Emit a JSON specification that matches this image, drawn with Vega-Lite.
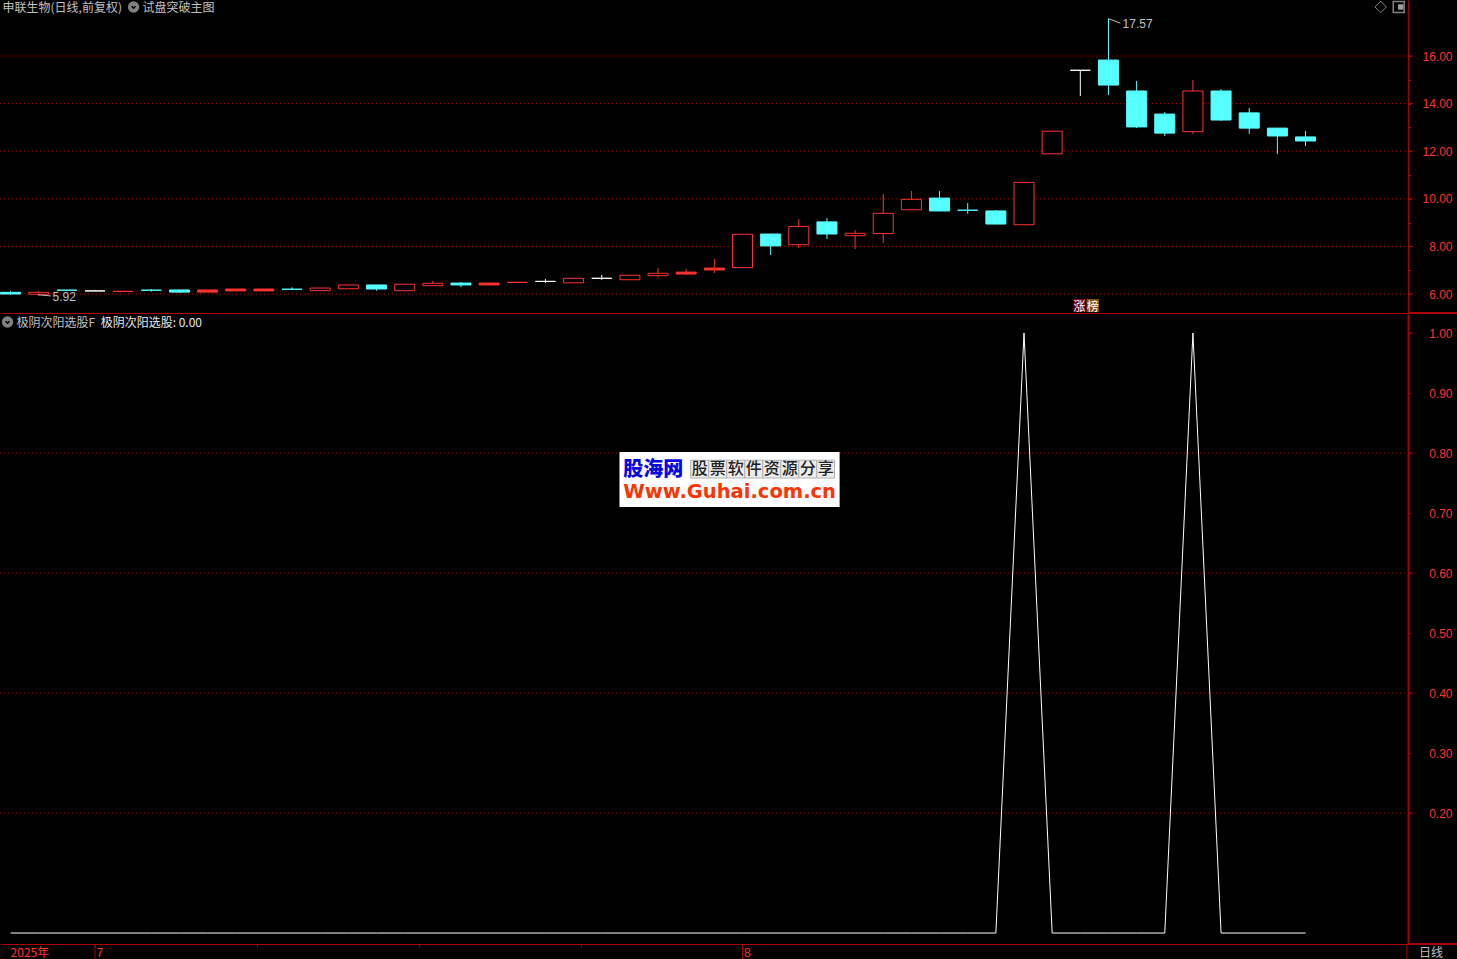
{
"$schema":"https://vega.github.io/schema/vega-lite/v6.json",
"background":"#000000",
"padding":{"left":-1,"top":-2,"right":0,"bottom":0},
"spacing":0,
"config":{"view":{"stroke":null},"concat":{"spacing":0},"text":{"font":"Noto Sans CJK SC","fontSize":12},"axis":{"title":null,"grid":false}},
"datasets":{
"candles":[
{"i":0,"top":6.07,"bot":6.00,"high":6.13,"low":5.97,"kind":"cyan"},
{"i":1,"top":6.07,"bot":5.99,"high":6.13,"low":5.92,"kind":"hollow"},
{"i":2,"top":6.16,"bot":6.16,"high":6.17,"low":6.15,"kind":"cyan"},
{"i":3,"top":6.13,"bot":6.13,"high":6.17,"low":6.13,"kind":"white"},
{"i":4,"top":6.11,"bot":6.11,"high":6.11,"low":6.11,"kind":"solid"},
{"i":5,"top":6.16,"bot":6.16,"high":6.21,"low":6.10,"kind":"cyan"},
{"i":6,"top":6.17,"bot":6.08,"high":6.17,"low":6.05,"kind":"cyan"},
{"i":7,"top":6.17,"bot":6.08,"high":6.17,"low":6.08,"kind":"solid"},
{"i":8,"top":6.21,"bot":6.13,"high":6.21,"low":6.13,"kind":"solid"},
{"i":9,"top":6.21,"bot":6.13,"high":6.21,"low":6.13,"kind":"solid"},
{"i":10,"top":6.20,"bot":6.20,"high":6.28,"low":6.17,"kind":"cyan"},
{"i":11,"top":6.25,"bot":6.14,"high":6.25,"low":6.14,"kind":"hollow"},
{"i":12,"top":6.38,"bot":6.22,"high":6.38,"low":6.22,"kind":"hollow"},
{"i":13,"top":6.38,"bot":6.21,"high":6.38,"low":6.14,"kind":"cyan"},
{"i":14,"top":6.41,"bot":6.14,"high":6.41,"low":6.14,"kind":"hollow"},
{"i":15,"top":6.45,"bot":6.35,"high":6.55,"low":6.35,"kind":"hollow"},
{"i":16,"top":6.46,"bot":6.38,"high":6.50,"low":6.29,"kind":"cyan"},
{"i":17,"top":6.46,"bot":6.38,"high":6.46,"low":6.38,"kind":"solid"},
{"i":18,"top":6.49,"bot":6.49,"high":6.49,"low":6.49,"kind":"solid"},
{"i":19,"top":6.53,"bot":6.53,"high":6.63,"low":6.46,"kind":"white"},
{"i":20,"top":6.66,"bot":6.47,"high":6.66,"low":6.47,"kind":"hollow"},
{"i":21,"top":6.66,"bot":6.66,"high":6.80,"low":6.59,"kind":"white"},
{"i":22,"top":6.79,"bot":6.60,"high":6.79,"low":6.60,"kind":"hollow"},
{"i":23,"top":6.87,"bot":6.77,"high":7.09,"low":6.71,"kind":"hollow"},
{"i":24,"top":6.92,"bot":6.84,"high":7.05,"low":6.80,"kind":"solid"},
{"i":25,"top":7.09,"bot":7.01,"high":7.47,"low":6.88,"kind":"solid"},
{"i":26,"top":8.51,"bot":7.11,"high":8.51,"low":7.11,"kind":"hollow"},
{"i":27,"top":8.52,"bot":8.02,"high":8.52,"low":7.64,"kind":"cyan"},
{"i":28,"top":8.84,"bot":8.07,"high":9.14,"low":7.93,"kind":"hollow"},
{"i":29,"top":9.03,"bot":8.52,"high":9.19,"low":8.31,"kind":"cyan"},
{"i":30,"top":8.55,"bot":8.45,"high":8.69,"low":7.89,"kind":"hollow"},
{"i":31,"top":9.39,"bot":8.54,"high":10.20,"low":8.14,"kind":"hollow"},
{"i":32,"top":9.98,"bot":9.54,"high":10.33,"low":9.54,"kind":"hollow"},
{"i":33,"top":10.03,"bot":9.49,"high":10.33,"low":9.49,"kind":"cyan"},
{"i":34,"top":9.52,"bot":9.52,"high":9.82,"low":9.37,"kind":"cyan"},
{"i":35,"top":9.49,"bot":8.94,"high":9.53,"low":8.94,"kind":"cyan"},
{"i":36,"top":10.69,"bot":8.91,"high":10.69,"low":8.91,"kind":"hollow"},
{"i":37,"top":12.84,"bot":11.89,"high":12.84,"low":11.89,"kind":"hollow"},
{"i":38,"top":15.40,"bot":15.40,"high":15.40,"low":14.32,"kind":"white"},
{"i":39,"top":15.83,"bot":14.78,"high":17.57,"low":14.36,"kind":"cyan"},
{"i":40,"top":14.53,"bot":13.02,"high":14.95,"low":12.97,"kind":"cyan"},
{"i":41,"top":13.56,"bot":12.76,"high":13.65,"low":12.64,"kind":"cyan"},
{"i":42,"top":14.53,"bot":12.82,"high":14.99,"low":12.72,"kind":"hollow"},
{"i":43,"top":14.53,"bot":13.31,"high":14.61,"low":13.27,"kind":"cyan"},
{"i":44,"top":13.61,"bot":12.97,"high":13.82,"low":12.72,"kind":"cyan"},
{"i":45,"top":12.97,"bot":12.64,"high":12.97,"low":11.88,"kind":"cyan"},
{"i":46,"top":12.60,"bot":12.43,"high":12.85,"low":12.22,"kind":"cyan"}
],
"signal":[
{"i":0,"p":0},{"i":1,"p":0},{"i":2,"p":0},{"i":3,"p":0},{"i":4,"p":0},{"i":5,"p":0},{"i":6,"p":0},{"i":7,"p":0},{"i":8,"p":0},{"i":9,"p":0},
{"i":10,"p":0},{"i":11,"p":0},{"i":12,"p":0},{"i":13,"p":0},{"i":14,"p":0},{"i":15,"p":0},{"i":16,"p":0},{"i":17,"p":0},{"i":18,"p":0},{"i":19,"p":0},
{"i":20,"p":0},{"i":21,"p":0},{"i":22,"p":0},{"i":23,"p":0},{"i":24,"p":0},{"i":25,"p":0},{"i":26,"p":0},{"i":27,"p":0},{"i":28,"p":0},{"i":29,"p":0},
{"i":30,"p":0},{"i":31,"p":0},{"i":32,"p":0},{"i":33,"p":0},{"i":34,"p":0},{"i":35,"p":0},{"i":36,"p":1},{"i":37,"p":0},{"i":38,"p":0},{"i":39,"p":0},
{"i":40,"p":0},{"i":41,"p":0},{"i":42,"p":1},{"i":43,"p":0},{"i":44,"p":0},{"i":45,"p":0},{"i":46,"p":0}
]
},
"vconcat":[
{
"width":1408,"height":313,
"encoding":{
"x":{"field":"i","type":"quantitative","scale":{"domain":[-0.375,49.64],"nice":false,"zero":false,"padding":0},"axis":{"domainColor":"#aa0000","domainWidth":1,"ticks":false,"labels":false,"grid":false,"minExtent":0,"maxExtent":0}},
"y":{"field":"p","type":"quantitative","scale":{"domain":[5.202,18.353],"nice":false,"zero":false},
"axis":{"orient":"right","values":[6,7,8,9,10,11,12,13,14,15,16],"labelExpr":"datum.value%2==0?format(datum.value,'.2f'):''","labelOverlap":false,"labelAlign":"right","labelPadding":41,"tickSize":3,"tickColor":"#aa0000","domainColor":"#aa0000","domainWidth":1,"labelColor":"#ff3232","labelFont":"Liberation Sans","labelFontSize":12,"minExtent":49,"maxExtent":49,"labelFlush":false,"grid":false}}
},
"layer":[
{"data":{"values":[{"i":0,"p":6},{"i":0,"p":8},{"i":0,"p":10},{"i":0,"p":12},{"i":0,"p":14},{"i":0,"p":16}]},
"mark":{"type":"rule","stroke":"#aa0000","strokeWidth":1,"strokeDash":[1,3]},
"encoding":{"x":{"datum":-0.375},"x2":{"datum":49.64}}},
{"data":{"values":[{"i":0,"p":6},{"i":0,"p":8},{"i":0,"p":10},{"i":0,"p":12},{"i":0,"p":14},{"i":0,"p":16}]},
"mark":{"type":"rule","stroke":"#aa0000","strokeWidth":1},
"encoding":{"x":{"datum":49.64},"x2":{"datum":49.82}}},
{"data":{"name":"candles"},"mark":{"type":"rule","strokeWidth":1},
"encoding":{"y":{"field":"high","type":"quantitative"},"y2":{"field":"low"},
"stroke":{"field":"kind","type":"nominal","legend":null,"scale":{"domain":["cyan","hollow","white","solid"],"range":["#55ffff","#ff3232","#ffffff","#ff3232"]}}}},
{"data":{"name":"candles"},"mark":{"type":"bar","orient":"vertical","size":20,"strokeWidth":1},
"encoding":{"y":{"field":"top","type":"quantitative"},"y2":{"field":"bot"},
"fill":{"field":"kind","type":"nominal","legend":null,"scale":{"domain":["cyan","hollow","white","solid"],"range":["#55ffff","#000000","#ffffff","#ff3232"]}},
"stroke":{"field":"kind","type":"nominal","legend":null,"scale":{"domain":["cyan","hollow","white","solid"],"range":["#55ffff","#ff3232","#ffffff","#ff3232"]}}}},
{"data":{"values":[{"i":39,"p":17.57},{"i":39.42,"p":17.38}]},"mark":{"type":"line","stroke":"#c0c0c0","strokeWidth":1}},
{"data":{"values":[{"i":0.98,"p":5.97},{"i":1.42,"p":5.92}]},"mark":{"type":"line","stroke":"#c0c0c0","strokeWidth":1}},
{"data":{"values":[{"i":-0.284,"p":18.0,"label":"申联生物(日线,前复权)"},{"i":4.69,"p":18.0,"label":"试盘突破主图"}]},
"mark":{"type":"text","align":"left","baseline":"middle","color":"#c0c0c0"},"encoding":{"text":{"field":"label"}}},
{"data":{"values":[{"i":39.5,"p":17.34,"label":"17.57"},{"i":1.49,"p":5.86,"label":"5.92"}]},
"mark":{"type":"text","align":"left","baseline":"middle","color":"#c0c0c0","font":"Liberation Sans","fontSize":12},"encoding":{"text":{"field":"label"}}},
{"data":{"values":[{"i":4.37,"p":18.06}]},"mark":{"type":"point","shape":"circle","filled":true,"fill":"#808080","size":130,"opacity":1}},
{"data":{"values":[{"i":4.37,"p":18.06}]},"mark":{"type":"point","shape":"M-0.5,-0.2L0,0.3L0.5,-0.2","filled":false,"stroke":"#000000","strokeWidth":1.5,"size":60,"opacity":1}},
{"data":{"values":[{"i":48.67,"p":18.06}]},"mark":{"type":"point","shape":"diamond","filled":false,"stroke":"#808080","strokeWidth":1,"size":130,"opacity":1}},
{"data":{"values":[{"i":49.31,"p":18.06}]},"mark":{"type":"point","shape":"square","filled":false,"stroke":"#808080","strokeWidth":1.5,"size":120,"opacity":1}},
{"data":{"values":[{"i":49.38,"p":18.06}]},"mark":{"type":"point","shape":"square","filled":true,"fill":"#a0a0a0","size":28,"opacity":1}},
{"data":{"values":[{"i":37.76,"p":5.79,"i2":38.18,"p2":5.24}]},"mark":{"type":"rect","fill":"#7a0008"},
"encoding":{"x2":{"field":"i2"},"y2":{"field":"p2"}}},
{"data":{"values":[{"i":38.22,"p":5.79,"i2":38.66,"p2":5.24}]},"mark":{"type":"rect","fill":"#8a4a08"},
"encoding":{"x2":{"field":"i2"},"y2":{"field":"p2"}}},
{"data":{"values":[{"i":37.97,"p":5.46,"label":"涨"},{"i":38.44,"p":5.46,"label":"榜"}]},
"mark":{"type":"text","align":"center","baseline":"middle","color":"#ffffff","fontSize":12},"encoding":{"text":{"field":"label"}}},
{"data":{"values":[{"i":49.64,"p":5.202,"i2":51.4}]},"mark":{"type":"rule","stroke":"#aa0000","strokeWidth":2},"encoding":{"x2":{"field":"i2"}}}
]
},
{
"width":1408,"height":630,
"encoding":{
"x":{"field":"i","type":"quantitative","scale":{"domain":[-0.375,49.64],"nice":false,"zero":false,"padding":0},"axis":{"values":[3,8.74,14.5,20.25,26],"labelExpr":"datum.value==3?'7':datum.value==26?'8':''","labelOverlap":false,"labelFlush":false,"labelAlign":"left","labelBaseline":"top","labelOffset":1,"labelPadding":0,"tickSize":3,"tickColor":"#aa0000","domainColor":"#aa0000","domainWidth":1,"labelColor":"#ff3232","labelFont":"Liberation Sans","labelFontSize":12,"minExtent":15,"maxExtent":15,"grid":false}},
"y":{"field":"p","type":"quantitative","scale":{"domain":[-0.0183,1.0317],"nice":false,"zero":false},
"axis":{"orient":"right","values":[0.2,0.3,0.4,0.5,0.6,0.7,0.8,0.9,1],"format":".2f","labelOverlap":false,"labelAlign":"right","labelPadding":41,"tickSize":3,"tickColor":"#aa0000","domainColor":"#aa0000","domainWidth":2,"labelColor":"#ff3232","labelFont":"Liberation Sans","labelFontSize":12,"minExtent":49,"maxExtent":49,"labelFlush":false,"grid":false}}
},
"layer":[
{"data":{"values":[{"i":0,"p":0.2},{"i":0,"p":0.4},{"i":0,"p":0.6},{"i":0,"p":0.8}]},
"mark":{"type":"rule","stroke":"#aa0000","strokeWidth":1,"strokeDash":[1,3]},
"encoding":{"x":{"datum":-0.375},"x2":{"datum":49.64}}},
{"data":{"values":[{"i":0,"p":0.2},{"i":0,"p":0.4},{"i":0,"p":0.6},{"i":0,"p":0.8},{"i":0,"p":1}]},
"mark":{"type":"rule","stroke":"#aa0000","strokeWidth":1},
"encoding":{"x":{"datum":49.64},"x2":{"datum":49.82}}},
{"data":{"name":"signal"},"mark":{"type":"line","stroke":"#ffffff","strokeWidth":1}},
{"data":{"values":[{"i":3,"p":-0.0183,"p2":-0.0433},{"i":26,"p":-0.0183,"p2":-0.0433},{"i":49.6,"p":-0.0183,"p2":-0.0433}]},
"mark":{"type":"rule","stroke":"#aa0000","strokeWidth":1},"encoding":{"y2":{"field":"p2"}}},
{"data":{"values":[{"i":49.64,"p":-0.0183,"i2":51.4}]},"mark":{"type":"rule","stroke":"#aa0000","strokeWidth":2},"encoding":{"x2":{"field":"i2"}}},
{"data":{"values":[{"i":21.63,"p":0.8017,"i2":29.45,"p2":0.71}]},"mark":{"type":"rect","fill":"#ffffff"},
"encoding":{"x2":{"field":"i2"},"y2":{"field":"p2"}}},
{"data":{"values":[
{"i":24.16,"p":0.788,"i2":24.80,"p2":0.7583},{"i":24.80,"p":0.788,"i2":25.44,"p2":0.7583},{"i":25.44,"p":0.788,"i2":26.08,"p2":0.7583},{"i":26.08,"p":0.788,"i2":26.72,"p2":0.7583},
{"i":26.72,"p":0.788,"i2":27.36,"p2":0.7583},{"i":27.36,"p":0.788,"i2":28.0,"p2":0.7583},{"i":28.0,"p":0.788,"i2":28.64,"p2":0.7583},{"i":28.64,"p":0.788,"i2":29.27,"p2":0.7583}]},
"mark":{"type":"rect","fill":"#ececec","stroke":"#b0b0b0","strokeWidth":1},
"encoding":{"x2":{"field":"i2"},"y2":{"field":"p2"}}},
{"data":{"values":[
{"i":24.48,"p":0.7731,"label":"股"},{"i":25.12,"p":0.7731,"label":"票"},{"i":25.76,"p":0.7731,"label":"软"},{"i":26.40,"p":0.7731,"label":"件"},
{"i":27.04,"p":0.7731,"label":"资"},{"i":27.68,"p":0.7731,"label":"源"},{"i":28.32,"p":0.7731,"label":"分"},{"i":28.96,"p":0.7731,"label":"享"}]},
"mark":{"type":"text","align":"center","baseline":"middle","color":"#222222","fontSize":16,"fontWeight":500},"encoding":{"text":{"field":"label"}}},
{"data":{"values":[{"i":21.76,"p":0.7717,"label":"股海网"}]},
"mark":{"type":"text","align":"left","baseline":"middle","color":"#0808e0","fontSize":20,"fontWeight":900},"encoding":{"text":{"field":"label"}}},
{"data":{"values":[{"i":21.76,"p":0.7350,"label":"Www.Guhai.com.cn"}]},
"mark":{"type":"text","align":"left","baseline":"middle","color":"#ff3300","font":"DejaVu Sans","fontSize":19.5,"fontWeight":"bold"},"encoding":{"text":{"field":"label"}}},
{"data":{"values":[{"i":0.213,"p":1.0167,"label":"极阴次阳选股F"}]},
"mark":{"type":"text","align":"left","baseline":"middle","color":"#c0c0c0"},"encoding":{"text":{"field":"label"}}},
{"data":{"values":[{"i":3.2,"p":1.0167,"label":"极阴次阳选股: 0.00"}]},
"mark":{"type":"text","align":"left","baseline":"middle","color":"#e8e8e8"},"encoding":{"text":{"field":"label"}}},
{"data":{"values":[{"i":-0.107,"p":1.0183}]},"mark":{"type":"point","shape":"circle","filled":true,"fill":"#808080","size":130,"opacity":1}},
{"data":{"values":[{"i":-0.107,"p":1.0183}]},"mark":{"type":"point","shape":"M-0.5,-0.2L0,0.3L0.5,-0.2","filled":false,"stroke":"#000000","strokeWidth":1.5,"size":60,"opacity":1}},
{"data":{"values":[{"i":0,"p":-0.0333,"label":"2025年"}]},
"mark":{"type":"text","align":"left","baseline":"middle","color":"#ff3232"},"encoding":{"text":{"field":"label"}}},
{"data":{"values":[{"i":50.46,"p":-0.0333,"label":"日线"}]},
"mark":{"type":"text","align":"center","baseline":"middle","color":"#c0c0c0"},"encoding":{"text":{"field":"label"}}}
]
}
]
}
